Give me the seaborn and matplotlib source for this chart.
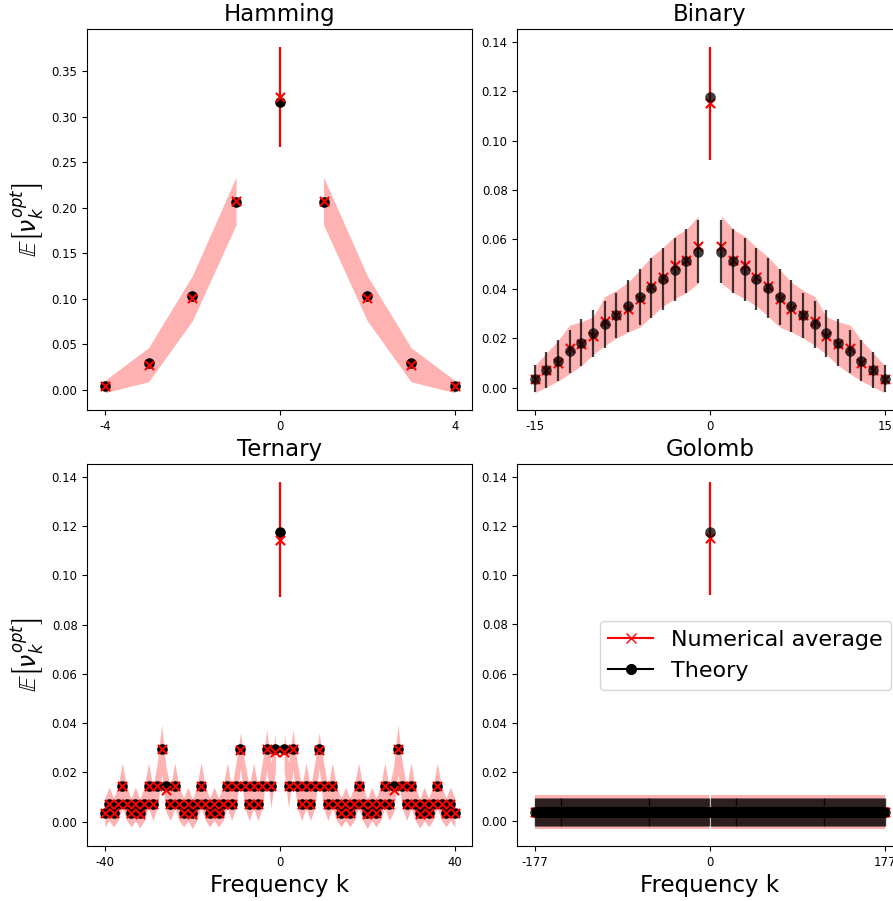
import numpy as np
import matplotlib
matplotlib.use("Agg")
import matplotlib.pyplot as plt
from matplotlib.lines import Line2D
import seaborn as sns

# ---------------- data ----------------
titles = ["Hamming", "Binary", "Ternary", "Golomb"]
x_label = "Frequency k"
y_label = r"$\mathbb{E}\left[\nu_k^{opt}\right]$"
legend_labels = ["Numerical average", "Theory"]

# Hamming, k = -4..4
hamming_k = [-4, -3, -2, -1, 0, 1, 2, 3, 4]
hamming_theory = [0.0040, 0.0290, 0.1030, 0.2060, 0.3160, 0.2060, 0.1030, 0.0290, 0.0040]
hamming_num = [0.0035, 0.0270, 0.1010, 0.2070, 0.3220, 0.2070, 0.1010, 0.0270, 0.0035]
hamming_lo = [-0.0035, 0.0085, 0.0755, 0.1810, 0.2670, 0.1810, 0.0755, 0.0085, -0.0035]
hamming_hi = [0.0100, 0.0460, 0.1250, 0.2335, 0.3770, 0.2335, 0.1250, 0.0460, 0.0100]

# Binary, k = -15..15
binary_k = list(range(-15, 16))
binary_theory = [0.0037, 0.0073, 0.0110, 0.0147, 0.0183, 0.0220, 0.0257, 0.0293,
                 0.0330, 0.0367, 0.0403, 0.0440, 0.0477, 0.0513, 0.0550, 0.1175,
                 0.0550, 0.0513, 0.0477, 0.0440, 0.0403, 0.0367, 0.0330, 0.0293,
                 0.0257, 0.0220, 0.0183, 0.0147, 0.0110, 0.0073, 0.0037]
binary_theory_err = [0.0055, 0.0073, 0.0084, 0.0088, 0.0096, 0.0096, 0.0095, 0.0090,
                     0.0105, 0.0114, 0.0121, 0.0124, 0.0128, 0.0128, 0.0128, 0.0,
                     0.0128, 0.0128, 0.0128, 0.0124, 0.0121, 0.0114, 0.0105, 0.0090,
                     0.0095, 0.0096, 0.0096, 0.0088, 0.0084, 0.0073, 0.0055]
binary_num = [0.0037, 0.0073, 0.0100, 0.0160, 0.0175, 0.0210, 0.0270, 0.0293,
              0.0320, 0.0360, 0.0410, 0.0450, 0.0495, 0.0515, 0.0575, 0.1150,
              0.0575, 0.0515, 0.0495, 0.0450, 0.0410, 0.0360, 0.0320, 0.0293,
              0.0270, 0.0210, 0.0175, 0.0160, 0.0100, 0.0073, 0.0037]
binary_lo = [-0.0020, 0.0003, 0.0027, 0.0057, 0.0090, 0.0134, 0.0171, 0.0201,
             0.0225, 0.0245, 0.0289, 0.0330, 0.0360, 0.0385, 0.0423, 0.0920,
             0.0423, 0.0385, 0.0360, 0.0330, 0.0289, 0.0245, 0.0225, 0.0201,
             0.0171, 0.0134, 0.0090, 0.0057, 0.0027, 0.0003, -0.0020]
binary_hi = [0.0090, 0.0141, 0.0192, 0.0254, 0.0267, 0.0287, 0.0369, 0.0394,
             0.0427, 0.0477, 0.0530, 0.0568, 0.0613, 0.0641, 0.0694, 0.1380,
             0.0694, 0.0641, 0.0613, 0.0568, 0.0530, 0.0477, 0.0427, 0.0394,
             0.0369, 0.0287, 0.0267, 0.0254, 0.0192, 0.0141, 0.0090]

# Ternary, k = -40..40
ternary_k = list(range(-40, 41))
ternary_theory = [
    0.0037, 0.0073, 0.0037, 0.0073, 0.0147, 0.0073, 0.0037, 0.0073, 0.0037, 0.0073,
    0.0147, 0.0073, 0.0147, 0.0294, 0.0147, 0.0073, 0.0147, 0.0073, 0.0037, 0.0073,
    0.0037, 0.0073, 0.0147, 0.0073, 0.0037, 0.0073, 0.0037, 0.0073, 0.0147, 0.0073,
    0.0147, 0.0294, 0.0147, 0.0073, 0.0147, 0.0073, 0.0147, 0.0294, 0.0147, 0.0294,
    0.1175,
    0.0294, 0.0147, 0.0294, 0.0147, 0.0073, 0.0147, 0.0073, 0.0147, 0.0294, 0.0147,
    0.0073, 0.0147, 0.0073, 0.0037, 0.0073, 0.0037, 0.0073, 0.0147, 0.0073, 0.0037,
    0.0073, 0.0037, 0.0073, 0.0147, 0.0073, 0.0147, 0.0294, 0.0147, 0.0073, 0.0147,
    0.0073, 0.0037, 0.0073, 0.0037, 0.0073, 0.0147, 0.0073, 0.0037, 0.0073, 0.0037]
ternary_num = [
    0.0037, 0.0073, 0.0037, 0.0073, 0.0147, 0.0073, 0.0037, 0.0073, 0.0033, 0.0073,
    0.0147, 0.0073, 0.0147, 0.0294, 0.0130, 0.0073, 0.0147, 0.0073, 0.0037, 0.0073,
    0.0030, 0.0073, 0.0147, 0.0073, 0.0037, 0.0073, 0.0037, 0.0073, 0.0147, 0.0073,
    0.0147, 0.0290, 0.0147, 0.0073, 0.0147, 0.0073, 0.0147, 0.0294, 0.0147, 0.0282,
    0.1145,
    0.0282, 0.0147, 0.0294, 0.0147, 0.0073, 0.0147, 0.0073, 0.0147, 0.0290, 0.0147,
    0.0073, 0.0147, 0.0073, 0.0037, 0.0073, 0.0037, 0.0073, 0.0147, 0.0073, 0.0030,
    0.0073, 0.0037, 0.0073, 0.0147, 0.0073, 0.0130, 0.0294, 0.0147, 0.0073, 0.0147,
    0.0073, 0.0033, 0.0073, 0.0037, 0.0073, 0.0147, 0.0073, 0.0037, 0.0073, 0.0037]
ternary_std = [
    0.0058, 0.0068, 0.0058, 0.0068, 0.0092, 0.0068, 0.0058, 0.0068, 0.0058, 0.0068,
    0.0092, 0.0068, 0.0092, 0.0100, 0.0092, 0.0068, 0.0092, 0.0068, 0.0058, 0.0068,
    0.0058, 0.0068, 0.0092, 0.0068, 0.0058, 0.0068, 0.0058, 0.0068, 0.0092, 0.0068,
    0.0092, 0.0072, 0.0092, 0.0068, 0.0092, 0.0068, 0.0092, 0.0080, 0.0092, 0.0078,
    0.0235,
    0.0078, 0.0092, 0.0080, 0.0092, 0.0068, 0.0092, 0.0068, 0.0092, 0.0072, 0.0092,
    0.0068, 0.0092, 0.0068, 0.0058, 0.0068, 0.0058, 0.0068, 0.0092, 0.0068, 0.0058,
    0.0068, 0.0058, 0.0068, 0.0092, 0.0068, 0.0092, 0.0100, 0.0092, 0.0068, 0.0092,
    0.0068, 0.0058, 0.0068, 0.0058, 0.0068, 0.0092, 0.0068, 0.0058, 0.0068, 0.0058]

# Golomb, k = -177..177 (flat spectrum except k = 0)
golomb_k = list(range(-177, 178))
golomb_theory = [0.0037] * 177 + [0.1175] + [0.0037] * 177
golomb_theory_err = [0.0056] * 177 + [0.0] + [0.0056] * 177
golomb_num = [0.0037] * 177 + [0.1150] + [0.0037] * 177
golomb_lo = [-0.0030] * 177 + [0.0920] + [-0.0030] * 177
golomb_hi = [0.0105] * 177 + [0.1380] + [0.0105] * 177

# ---------------- drawing ----------------
RED = "red"
DOT_S = 58
X_S = 44


def draw_panel(ax, k, theory, num, lo, hi, theory_err=None, err_lw=1.6):
    k = np.asarray(k)
    theory = np.asarray(theory)
    num = np.asarray(num)
    lo = np.asarray(lo)
    hi = np.asarray(hi)
    neg, pos, zero = k < 0, k > 0, k == 0
    for m in (neg, pos):
        ax.fill_between(k[m], lo[m], hi[m], color=RED, alpha=0.3, linewidth=0, zorder=1)
    # central frequency: red error bar instead of band
    ax.errorbar(k[zero], num[zero],
                yerr=[num[zero] - lo[zero], hi[zero] - num[zero]],
                fmt="none", ecolor=RED, elinewidth=1.6, zorder=2)
    if theory_err is None:
        sns.scatterplot(x=k, y=theory, color="black", s=DOT_S, linewidth=0,
                        ax=ax, zorder=3)
        sns.scatterplot(x=k, y=num, marker="x", color=RED, s=X_S, linewidth=1.5,
                        ax=ax, zorder=4)
    else:
        te = np.asarray(theory_err)
        sns.scatterplot(x=k, y=num, marker="x", color=RED, s=X_S, linewidth=1.5,
                        ax=ax, zorder=3)
        nz = ~zero
        ax.errorbar(k[nz], theory[nz], yerr=te[nz], fmt="none", ecolor="black",
                    elinewidth=err_lw, alpha=0.75, zorder=4)
        sns.scatterplot(x=k, y=theory, color="black", alpha=0.75, s=DOT_S,
                        linewidth=0, ax=ax, zorder=5)


fig = plt.figure(figsize=(8.93, 9.01), dpi=100)
W, H = 893.0, 901.0
col_x = [87.3 / W, 517.3 / W]
ax_w = 385.0 / W
row_y = [1 - 410.0 / H, 1 - 846.0 / H]
ax_h = [380.7 / H, 381.7 / H]

axes = []
for r in range(2):
    for c in range(2):
        axes.append(fig.add_axes([col_x[c], row_y[r], ax_w, ax_h[r]]))

draw_panel(axes[0], hamming_k, hamming_theory, hamming_num, hamming_lo, hamming_hi)
draw_panel(axes[1], binary_k, binary_theory, binary_num, binary_lo, binary_hi,
           binary_theory_err)
ternary_lo = list(np.asarray(ternary_num) - np.asarray(ternary_std))
ternary_hi = list(np.asarray(ternary_num) + np.asarray(ternary_std))
draw_panel(axes[2], ternary_k, ternary_theory, ternary_num, ternary_lo, ternary_hi)
draw_panel(axes[3], golomb_k, golomb_theory, golomb_num, golomb_lo, golomb_hi,
           golomb_theory_err, err_lw=1.0)

kmax = [4, 15, 40, 177]
for ax, t, km in zip(axes, titles, kmax):
    ax.set_title(t, fontsize=16.5)
    ax.set_xticks([-km, 0, km])
    ax.set_xticklabels([str(-km), "0", str(km)])
    ax.tick_params(labelsize=8.4)
    ax.set_xlabel("")
    ax.set_ylabel("")

for ax in (axes[0], axes[2]):
    ax.set_ylabel(y_label, fontsize=17)
for ax in (axes[2], axes[3]):
    ax.set_xlabel(x_label, fontsize=16.5)

handles = [Line2D([], [], color=RED, marker="x", linestyle="-", markersize=7, lw=1.5),
           Line2D([], [], color="black", marker="o", linestyle="-", markersize=7, lw=1.5)]
axes[3].legend(handles, legend_labels, loc="center right", fontsize=16)

fig.savefig("out.png", dpi=100)
